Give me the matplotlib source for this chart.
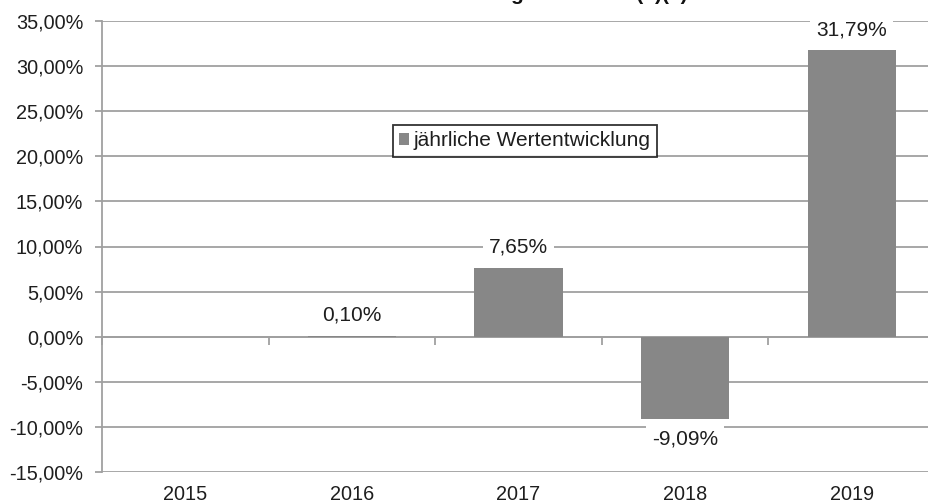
import matplotlib

matplotlib.use("Agg")
import matplotlib.pyplot as plt
import numpy as np

plt.rcParams["font.family"] = ["Liberation Sans", "DejaVu Sans"]

years = ["2015", "2016", "2017", "2018", "2019"]
returns = [np.nan, 0.10, 7.65, -9.09, 31.79]
labels = ["", "0,10%", "7,65%", "-9,09%", "31,79%"]
yticks = [-15, -10, -5, 0, 5, 10, 15, 20, 25, 30, 35]
title = "Jährliche Wertentwicklung in Prozent (1)(2)"

W, H = 929, 504
FS = 14.3
TXT = "#1e1e1e"
fig = plt.figure(figsize=(W / 100, H / 100), dpi=100)
# axes run past the right edge, as in the cropped original
ax = fig.add_axes([102 / W, 1 - 472 / H, 833 / W, 451 / H])

x = np.arange(len(years))
grid_c = "#a0a0a0"
ax.bar(x, returns, width=0.53, color="#878787", zorder=3)

ax.set_xlim(-0.5, len(years) - 0.5)
ax.set_ylim(-15, 35)
ax.set_yticks(yticks)
ax.set_yticklabels([f"{v:.2f}%".replace(".", ",") for v in yticks])
ax.yaxis.grid(True, color=grid_c, lw=1.3, zorder=0)
ax.set_axisbelow(True)

for s in ["top", "right"]:
    ax.spines[s].set_visible(False)
ax.spines["left"].set_color(grid_c)
ax.spines["left"].set_linewidth(1.3)
ax.spines["bottom"].set_position(("data", 0))
ax.spines["bottom"].set_color(grid_c)
ax.spines["bottom"].set_linewidth(1.3)

# category boundary ticks on the zero line, year labels at the bottom
ax.set_xticks(np.arange(len(years) + 1) - 0.5)
ax.set_xticklabels([])
ax.tick_params(axis="x", length=6, color=grid_c, width=1.3, direction="out")
ax.tick_params(axis="y", length=5, color=grid_c, width=1.3, labelsize=FS,
               labelcolor=TXT, pad=8.5)
for xi, yr in zip(x, years):
    ax.text(xi, -16.4, yr, ha="center", va="top", fontsize=FS, color=TXT,
            clip_on=False)

for xi, v, lab in zip(x, returns, labels):
    if not lab:
        continue
    off = 1.2 if v >= 0 else -1.2
    ax.text(xi, v + off, lab, ha="center", va="bottom" if v >= 0 else "top",
            fontsize=15, color=TXT, zorder=4,
            bbox=dict(boxstyle="square,pad=0.3", fc="white", ec="none"))

leg = ax.legend(["jährliche Wertentwicklung"], loc="center",
                bbox_to_anchor=(525 / W, 1 - 141 / H), bbox_transform=fig.transFigure,
                fontsize=15, frameon=True, fancybox=False, handlelength=0.45,
                handleheight=0.45, handletextpad=0.25, borderpad=0.3,
                borderaxespad=0)
leg.get_frame().set_edgecolor("black")
leg.get_frame().set_linewidth(1.3)
for t in leg.get_texts():
    t.set_color(TXT)

# title sits above the cropped top edge; only its descenders show
fig.text(0.51, 1 - 0.5 / H, title, ha="center", va="baseline", fontsize=15,
         fontweight="bold", color="#111111")

fig.savefig("out.png", dpi=100, facecolor="white")
